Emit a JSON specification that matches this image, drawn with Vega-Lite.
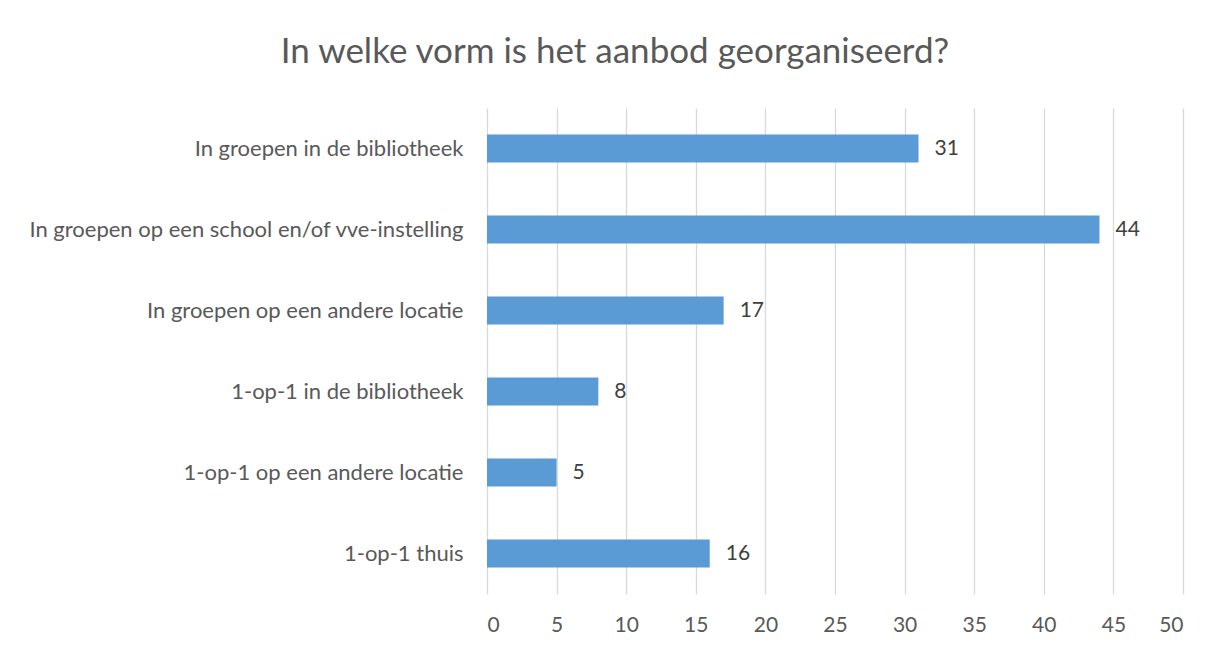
{
  "$schema": "https://vega.github.io/schema/vega-lite/v6.json",
  "autosize": {"type": "none"},
  "width": 696,
  "height": 486,
  "padding": {"left": 487, "top": 108, "right": 38, "bottom": 56},
  "background": "white",
  "title": {
    "text": "In welke vorm is het aanbod georganiseerd?",
    "fontSize": 35,
    "font": "Lato",
    "fontWeight": "normal",
    "color": "#595959",
    "anchor": "middle",
    "frame": "group",
    "offset": 38,
    "dx": -220
  },
  "data": {
    "values": [
      {"cat": "In groepen in de bibliotheek", "n": 31},
      {"cat": "In groepen op een school en/of vve-instelling", "n": 44},
      {"cat": "In groepen op een andere locatie", "n": 17},
      {"cat": "1-op-1 in de bibliotheek", "n": 8},
      {"cat": "1-op-1 op een andere locatie", "n": 5},
      {"cat": "1-op-1 thuis", "n": 16}
    ]
  },
  "encoding": {
    "y": {
      "field": "cat",
      "type": "nominal",
      "sort": null,
      "title": null,
      "scale": {"paddingInner": 0.654, "paddingOuter": 0.327},
      "axis": {
        "ticks": false,
        "domain": false,
        "labelPadding": 24,
        "labelFontSize": 22,
        "labelFont": "Lato",
        "labelColor": "#595959",
        "labelLimit": 600
      }
    },
    "x": {
      "field": "n",
      "type": "quantitative",
      "title": null,
      "scale": {"domain": [0, 50], "nice": false},
      "axis": {
        "values": [0, 5, 10, 15, 20, 25, 30, 35, 40, 45, 50],
        "ticks": false,
        "domain": false,
        "grid": true,
        "gridColor": "#d9d9d9",
        "gridWidth": 1.3,
        "labelPadding": 20,
        "labelFontSize": 21,
        "labelFont": "Lato",
        "labelColor": "#595959"
      }
    }
  },
  "layer": [
    {"mark": {"type": "bar", "color": "#5B9BD5"}},
    {
      "mark": {"type": "text", "align": "left", "dx": 16, "fontSize": 21, "font": "Lato", "color": "#404040"},
      "encoding": {"text": {"field": "n", "type": "quantitative"}}
    }
  ],
  "config": {"view": {"stroke": null}}
}
